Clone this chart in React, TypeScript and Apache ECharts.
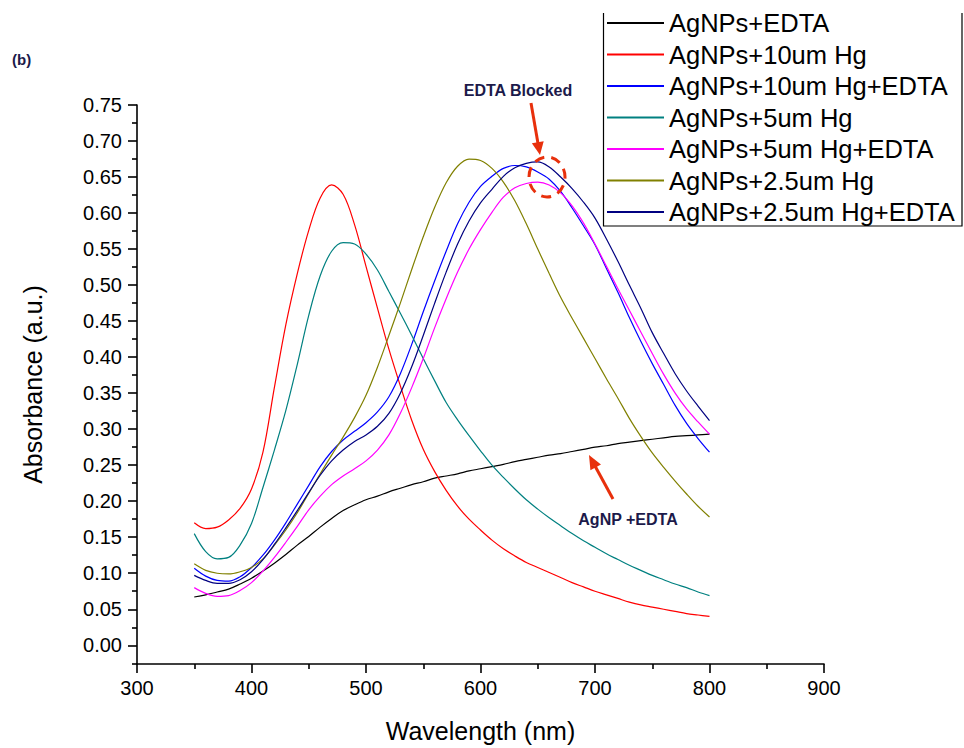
import React, { useEffect, useRef } from "react";
import * as echarts from "echarts";

const wavelengths = [
  350, 360, 370, 380, 390, 400, 410, 420, 430, 440, 450, 460, 470, 480, 490, 500,
  510, 520, 530, 540, 550, 560, 570, 580, 590, 600, 610, 620, 630, 640, 650, 660,
  670, 680, 690, 700, 710, 720, 730, 740, 750, 760, 770, 780, 790, 800,
];

const agEdta = [
  0.067, 0.070, 0.074, 0.078, 0.085, 0.093, 0.103, 0.114, 0.126, 0.139, 0.151, 0.164,
  0.176, 0.187, 0.195, 0.202, 0.207, 0.213, 0.218, 0.223, 0.227, 0.232, 0.235, 0.238,
  0.242, 0.245, 0.248, 0.251, 0.255, 0.258, 0.261, 0.264, 0.266, 0.269, 0.272, 0.275,
  0.277, 0.280, 0.282, 0.284, 0.286, 0.288, 0.290, 0.291, 0.292, 0.293,
];

const hg10 = [
  0.170, 0.162, 0.164, 0.174, 0.190, 0.217, 0.268, 0.358, 0.445, 0.516, 0.576, 0.621,
  0.639, 0.626, 0.584, 0.526, 0.468, 0.411, 0.360, 0.312, 0.272, 0.241, 0.215, 0.193,
  0.175, 0.160, 0.146, 0.134, 0.124, 0.115, 0.108, 0.101, 0.094, 0.087, 0.081, 0.075,
  0.070, 0.065, 0.060, 0.056, 0.053, 0.050, 0.047, 0.044, 0.042, 0.040,
];

const hg10Edta = [
  0.107, 0.096, 0.090, 0.089, 0.095, 0.108, 0.125, 0.146, 0.170, 0.196, 0.222, 0.248,
  0.269, 0.285, 0.297, 0.309, 0.324, 0.345, 0.377, 0.418, 0.463, 0.506, 0.547, 0.585,
  0.615, 0.637, 0.651, 0.662, 0.666, 0.664, 0.657, 0.647, 0.630, 0.607, 0.582, 0.556,
  0.523, 0.490, 0.455, 0.422, 0.391, 0.362, 0.333, 0.308, 0.287, 0.268,
];

const hg5 = [
  0.155, 0.130, 0.120, 0.122, 0.139, 0.169, 0.219, 0.271, 0.326, 0.390, 0.458, 0.513,
  0.547, 0.559, 0.557, 0.543, 0.521, 0.491, 0.461, 0.430, 0.398, 0.367, 0.337, 0.313,
  0.291, 0.270, 0.250, 0.233, 0.217, 0.202, 0.189, 0.177, 0.166, 0.155, 0.145, 0.136,
  0.127, 0.119, 0.111, 0.104, 0.097, 0.091, 0.085, 0.080, 0.074, 0.069,
];

const hg5Edta = [
  0.080, 0.072, 0.068, 0.069, 0.076, 0.087, 0.103, 0.122, 0.143, 0.165, 0.188, 0.207,
  0.223, 0.235, 0.245, 0.256, 0.271, 0.292, 0.322, 0.358, 0.398, 0.441, 0.481, 0.518,
  0.550, 0.577, 0.601, 0.622, 0.635, 0.641, 0.643, 0.639, 0.628, 0.610, 0.586, 0.557,
  0.526, 0.495, 0.465, 0.435, 0.405, 0.376, 0.350, 0.328, 0.310, 0.293,
];

const hg25 = [
  0.113, 0.104, 0.100, 0.099, 0.102, 0.108, 0.120, 0.139, 0.160, 0.184, 0.211, 0.238,
  0.264, 0.289, 0.316, 0.347, 0.386, 0.430, 0.475, 0.522, 0.567, 0.608, 0.642, 0.665,
  0.675, 0.673, 0.662, 0.643, 0.617, 0.585, 0.550, 0.516, 0.483, 0.454, 0.426, 0.398,
  0.370, 0.343, 0.315, 0.290, 0.267, 0.247, 0.228, 0.210, 0.193, 0.178,
];

const hg25Edta = [
  0.097, 0.090, 0.086, 0.086, 0.091, 0.102, 0.119, 0.140, 0.163, 0.187, 0.212, 0.236,
  0.256, 0.271, 0.283, 0.292, 0.304, 0.322, 0.350, 0.387, 0.430, 0.475, 0.518, 0.557,
  0.589, 0.614, 0.633, 0.651, 0.663, 0.669, 0.671, 0.664, 0.650, 0.634, 0.615, 0.593,
  0.564, 0.533, 0.500, 0.468, 0.434, 0.405, 0.377, 0.353, 0.332, 0.312,
];

const seriesNames = [
  "AgNPs+EDTA",
  "AgNPs+10um Hg",
  "AgNPs+10um Hg+EDTA",
  "AgNPs+5um Hg",
  "AgNPs+5um Hg+EDTA",
  "AgNPs+2.5um Hg",
  "AgNPs+2.5um Hg+EDTA",
];
const seriesValues = [agEdta, hg10, hg10Edta, hg5, hg5Edta, hg25, hg25Edta];
const seriesColors = ["#000000", "#ff0000", "#0000ff", "#008080", "#ff00ff", "#808000", "#000080"];

const yMajorTicks = [
  0, 0.05, 0.1, 0.15, 0.2, 0.25, 0.3, 0.35, 0.4, 0.45, 0.5, 0.55, 0.6, 0.65, 0.7, 0.75,
];
const yMinorTicks = [
  -0.025, 0.025, 0.075, 0.125, 0.175, 0.225, 0.275, 0.325, 0.375, 0.425, 0.475, 0.525,
  0.575, 0.625, 0.675, 0.725,
];

const FONT = "'Liberation Sans', Arial, sans-serif";
const RED = "#e8300c";
const NAVY_TEXT = "#1c1a4a";

function arrow(x1: number, y1: number, x2: number, y2: number, headLen: number, headW: number) {
  const dx = x2 - x1;
  const dy = y2 - y1;
  const len = Math.sqrt(dx * dx + dy * dy);
  const ux = dx / len;
  const uy = dy / len;
  const bx = x2 - ux * headLen;
  const by = y2 - uy * headLen;
  const px = -uy * (headW / 2);
  const py = ux * (headW / 2);
  return [
    {
      type: "line",
      shape: { x1, y1, x2: bx + ux * 2, y2: by + uy * 2 },
      style: { stroke: RED, lineWidth: 3 },
      z: 10,
    },
    {
      type: "polygon",
      shape: { points: [[x2, y2], [bx + px, by + py], [bx - px, by - py]] },
      style: { fill: RED },
      z: 10,
    },
  ];
}

export default function App() {
  const ref = useRef<HTMLDivElement>(null);
  useEffect(() => {
    const chart = echarts.init(ref.current!, null, { renderer: "svg" });
    const option: any = {
      animation: false,
      backgroundColor: "#ffffff",
      textStyle: { fontFamily: FONT },
      grid: { left: 137, right: 140, top: 105, bottom: 82, containLabel: false },
      xAxis: {
        type: "value",
        min: 300,
        max: 900,
        interval: 100,
        name: "Wavelength (nm)",
        nameLocation: "middle",
        nameGap: 54,
        nameTextStyle: { fontSize: 25, color: "#000", fontFamily: FONT },
        axisLine: { show: true, onZero: false, lineStyle: { color: "#000", width: 1.6 } },
        axisTick: { show: true, inside: false, length: 9, lineStyle: { color: "#000", width: 1.6 } },
        minorTick: { show: true, splitNumber: 2, length: 5, lineStyle: { color: "#000", width: 1.6 } },
        axisLabel: { fontSize: 20, color: "#000", margin: 14, fontFamily: FONT },
        splitLine: { show: false },
        minorSplitLine: { show: false },
      },
      yAxis: [
        {
          type: "value",
          min: -0.026,
          max: 0.75,
          position: "left",
          name: "Absorbance (a.u.)",
          nameLocation: "middle",
          nameGap: 92,
          nameTextStyle: { fontSize: 25, color: "#000", fontFamily: FONT },
          axisLine: { show: true, onZero: false, lineStyle: { color: "#000", width: 1.6 } },
          axisTick: {
            show: true,
            inside: false,
            length: 9,
            customValues: yMajorTicks,
            lineStyle: { color: "#000", width: 1.6 },
          },
          axisLabel: {
            fontSize: 20,
            color: "#000",
            margin: 15,
            fontFamily: FONT,
            customValues: yMajorTicks,
            formatter: (v: number) => v.toFixed(2),
          },
          splitLine: { show: false },
        },
        {
          type: "value",
          min: -0.026,
          max: 0.75,
          position: "left",
          axisLine: { show: false },
          axisTick: {
            show: true,
            inside: false,
            length: 5,
            customValues: yMinorTicks,
            lineStyle: { color: "#000", width: 1.6 },
          },
          axisLabel: { show: false },
          splitLine: { show: false },
        },
      ],
      legend: {
        orient: "vertical",
        left: 603,
        top: 10,
        padding: [0, 0, 0, 3],
        itemWidth: 57,
        itemHeight: 20,
        itemGap: 5.5,
        itemStyle: { opacity: 0 },
        textStyle: { fontSize: 25.5, lineHeight: 26, color: "#000", fontFamily: FONT },
        data: seriesNames,
      },
      series: seriesNames.map((name, i) => ({
        name,
        type: "line",
        smooth: 0.35,
        symbol: "none",
        yAxisIndex: 0,
        color: seriesColors[i],
        lineStyle: { width: 1.2, color: seriesColors[i] },
        data: wavelengths.map((w, j) => [w, seriesValues[i][j]]),
        z: 2 + i,
      })),
      graphic: [
        {
          type: "rect",
          shape: { x: 603.5, y: -10, width: 358.5, height: 236 },
          style: { fill: "none", stroke: "#000", lineWidth: 1.2 },
          z: 20,
        },
        {
          type: "rect",
          shape: { x: 590, y: 0, width: 374, height: 13 },
          style: { fill: "#ffffff" },
          z: 100,
        },
        {
          type: "text",
          x: 12,
          y: 52,
          style: { text: "(b)", fontSize: 15, fontWeight: "bold", fill: NAVY_TEXT, fontFamily: FONT },
        },
        {
          type: "text",
          x: 518,
          y: 90,
          style: {
            text: "EDTA Blocked",
            fontSize: 16,
            fontWeight: "bold",
            fill: NAVY_TEXT,
            fontFamily: FONT,
            align: "center",
            verticalAlign: "middle",
          },
          z: 10,
        },
        {
          type: "text",
          x: 628,
          y: 519,
          style: {
            text: "AgNP +EDTA",
            fontSize: 16,
            fontWeight: "bold",
            fill: NAVY_TEXT,
            fontFamily: FONT,
            align: "center",
            verticalAlign: "middle",
          },
          z: 10,
        },
        ...arrow(531, 103, 540, 155, 13, 12),
        ...arrow(613, 499, 589, 455, 14, 12),
        {
          type: "ellipse",
          shape: { cx: 547, cy: 177, rx: 18, ry: 20 },
          style: { fill: "none", stroke: RED, lineWidth: 3, lineDash: [10, 7] },
          z: 10,
        },
      ],
    };
    chart.setOption(option);
    return () => chart.dispose();
  }, []);
  return (
    <div
      ref={ref}
      style={{ position: "fixed", left: 0, top: 0, width: 964, height: 748, background: "#fff" }}
    />
  );
}
